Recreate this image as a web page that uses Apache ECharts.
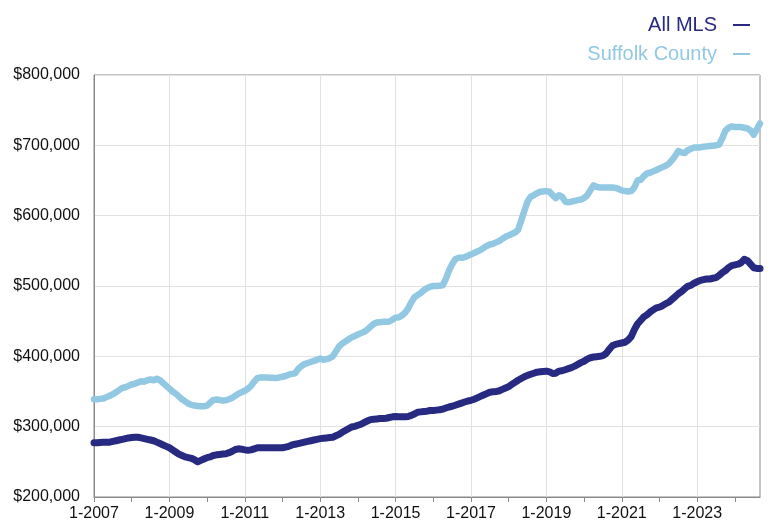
<!DOCTYPE html>
<html>
<head>
<meta charset="utf-8">
<script src="https://cdn.jsdelivr.net/npm/echarts@6/dist/echarts.min.js"></script>
<style>
html,body{margin:0;padding:0;background:#fff;}
#chart{width:772px;height:525px;}
</style>
</head>
<body>
<div id="chart"></div>
<script>
// Monthly, Jan 2007 .. Sep 2024 (values in $ thousands)
const startYear = 2007;
const seriesNames = ['All MLS', 'Suffolk County'];
const allMLS = [
  277, 277, 277.5, 278, 278, 278, 279, 280, 281, 282, 283, 284,           // 2007
  284.5, 285, 285, 284, 283, 282, 281, 280, 278, 276, 274, 272,           // 2008
  270, 267, 264, 261, 259, 257, 256, 255, 253, 250, 252, 254,             // 2009
  256, 257, 259, 260, 260.5, 261, 261.5, 263, 265, 267.5, 268.5, 268,     // 2010
  267, 266.5, 267, 268.5, 270, 270, 270, 270, 270, 270, 270, 270,         // 2011
  270, 271, 272, 274, 275, 276, 277, 278, 279, 280, 281, 282,             // 2012
  283, 283.5, 284, 284.5, 285, 287, 289, 292, 294.5, 297, 299.5, 300.5,   // 2013
  302, 303.5, 306, 308, 310, 310.5, 311, 311.5, 311.5, 312, 313, 314,     // 2014
  314.5, 314, 314, 314, 314.5, 316, 318, 320.5, 321, 321.5, 322, 323,     // 2015
  323, 323.5, 324, 325, 326.5, 328, 329, 330.5, 332, 333.5, 335, 336.5,   // 2016
  337.5, 339, 341, 343, 345, 347, 349, 349.5, 350, 351, 353, 355,         // 2017
  357, 360, 363, 366, 368.5, 371, 373, 374.5, 376, 377.5, 378, 378.5,     // 2018
  379, 378, 375.5, 376, 379, 379.5, 381, 382.5, 384, 386, 388.5, 391,     // 2019
  393, 396, 398, 399, 399.5, 400, 401, 404, 410, 415, 417, 418,           // 2020
  419, 420, 423, 428, 438, 446, 451, 456, 459, 463, 466, 469,             // 2021
  470, 472, 475, 477, 481, 485, 489, 492, 496, 499.5, 501, 504,           // 2022
  506, 508, 509, 510, 510, 511, 512, 515, 519, 522, 526, 529,             // 2023
  530, 531, 533, 538, 536, 531, 526, 525, 525                             // 2024
];
const suffolk = [
  339, 339, 339.5, 340, 342, 344, 346, 349, 352, 355, 356, 358,           // 2007
  360, 361, 363, 364.5, 364, 366, 367, 366, 368, 366, 362, 358,           // 2008
  354, 350, 347, 343, 339, 336, 333, 331, 330, 329.5, 329, 329,           // 2009
  330, 334, 338, 338.5, 338, 337, 337.5, 339, 341, 344, 347, 349,         // 2010
  351, 354, 358, 364, 369, 370, 370, 370, 369.5, 369.5, 369, 370,         // 2011
  371, 372, 374, 375, 376, 382, 386, 389, 390.5, 392, 393.5, 395,         // 2012
  397, 395, 396, 397.5, 400, 407, 414, 418, 421, 424, 427, 429,           // 2013
  431, 433, 435, 438, 442, 446, 448, 448.5, 449, 449, 449.5, 452,         // 2014
  455, 455.5, 458, 462, 468, 477, 484, 487, 490, 494, 497, 499,           // 2015
  500, 500, 500.5, 501, 510, 522, 531, 538, 540, 540, 541, 543,           // 2016
  545, 547, 549, 551, 554, 557, 559, 560, 562, 564, 567, 570,             // 2017
  572, 574, 576, 580, 593, 607, 620, 627, 629, 632, 634, 634.5,           // 2018
  635, 634, 629, 625, 629, 627, 620, 619, 620, 621, 622, 623,             // 2019
  625, 629, 636, 643, 641, 640, 640, 640, 640, 640, 639.5, 638,           // 2020
  636, 635, 634.5, 635, 640, 650, 651, 656, 660, 661, 663, 665,           // 2021
  667, 669, 671, 674, 679, 685, 692, 690, 689, 693, 695, 697,             // 2022
  697, 697, 698, 698.5, 699, 699.5, 700, 701, 710, 721, 725, 727,         // 2023
  726, 726, 726, 725, 724, 721, 715, 723, 731                             // 2024
];
const yTicks = [200000, 300000, 400000, 500000, 600000, 700000, 800000];

const categories = [];
for (let i = 0; i < allMLS.length; i++) {
  const y = startYear + Math.floor(i / 12);
  const m = (i % 12) + 1;
  categories.push(m + '-' + y);
}

const DARK = '#272a80';
const LIGHT = '#93c8e3';
const FONT = '"Liberation Sans", Arial, Helvetica, sans-serif';

const chart = echarts.init(document.getElementById('chart'), null, {renderer: 'canvas'});
chart.setOption({
  animation: false,
  backgroundColor: '#fff',
  textStyle: {fontFamily: FONT},
  legend: [
    {
      data: [{name: seriesNames[0], textStyle: {color: DARK}}],
      right: 17, top: 10, align: 'right',
      icon: 'rect', itemWidth: 17, itemHeight: 2,
      textStyle: {fontSize: 20, fontFamily: FONT, padding: [0, 11, 0, 0]},
      selectedMode: false
    },
    {
      data: [{name: seriesNames[1], textStyle: {color: LIGHT}}],
      right: 17, top: 39, align: 'right',
      icon: 'rect', itemWidth: 17, itemHeight: 2,
      textStyle: {fontSize: 20, fontFamily: FONT, padding: [0, 11, 0, 0]},
      selectedMode: false
    }
  ],
  grid: {
    left: 94, right: 12, top: 75, bottom: 28,
    show: true, borderColor: '#8a8a8a', borderWidth: 1
  },
  xAxis: {
    type: 'category',
    data: categories,
    boundaryGap: false,
    axisLine: {lineStyle: {color: '#8a8a8a', width: 1}},
    axisTick: {show: true, length: 5, lineStyle: {color: '#8a8a8a'},
      interval: (i) => i % 12 === 0},
    axisLabel: {interval: (i) => i % 24 === 0, color: '#111', fontSize: 16,
      fontFamily: FONT, margin: 9},
    splitLine: {show: true, interval: (i) => i % 24 === 0,
      lineStyle: {color: '#e2e2e2', width: 1}}
  },
  yAxis: {
    type: 'value',
    min: yTicks[0], max: yTicks[yTicks.length - 1], interval: 100000,
    axisLine: {show: true, lineStyle: {color: '#8a8a8a'}},
    axisTick: {show: false},
    axisLabel: {color: '#111', fontSize: 16, fontFamily: FONT, margin: 14,
      formatter: (v) => '$' + String(v).replace(/\B(?=(\d{3})+(?!\d))/g, ',')},
    splitLine: {show: true, lineStyle: {color: '#e2e2e2', width: 1}}
  },
  series: [
    {
      name: seriesNames[0], type: 'line', data: allMLS.map(v => v * 1000),
      showSymbol: false, symbol: 'none', color: DARK,
      lineStyle: {width: 7, color: DARK, cap: 'round', join: 'round'}
    },
    {
      name: seriesNames[1], type: 'line', data: suffolk.map(v => v * 1000),
      showSymbol: false, symbol: 'none', color: LIGHT,
      lineStyle: {width: 6.5, color: LIGHT, cap: 'round', join: 'round'}
    }
  ]
});
</script>
</body>
</html>
